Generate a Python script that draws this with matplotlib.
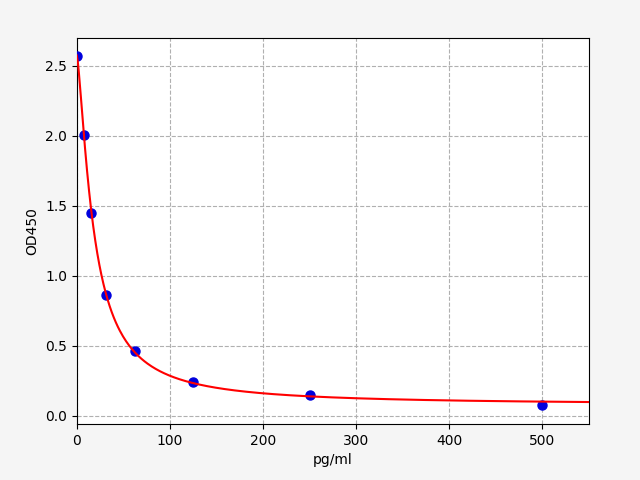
import numpy as np
import matplotlib.pyplot as plt

# standard points
conc = [0, 7.8, 15.6, 31.25, 62.5, 125, 250, 500]
od = [2.57, 2.01, 1.45, 0.865, 0.465, 0.243, 0.15, 0.08]

x = np.array(conc, dtype=float)
y = np.array(od, dtype=float)


def four_pl(xx, p):
    a, b, c, d = p
    return d + (a - d) / (1.0 + (np.abs(xx) / c) ** b)


# small Levenberg-Marquardt fit of a 4PL model to the points
p = np.array([2.55, 1.2, 20.0, 0.05])
lam = 1e-3
for it in range(500):
    r = y - four_pl(x, p)
    J = np.zeros((len(x), 4))
    for k in range(4):
        dp = np.zeros(4)
        dp[k] = 1e-6 * max(abs(p[k]), 1.0)
        J[:, k] = (four_pl(x, p + dp) - four_pl(x, p)) / dp[k]
    A = J.T @ J
    g = J.T @ r
    step = np.linalg.solve(A + lam * np.diag(np.diag(A)), g)
    pn = p + step
    if pn[2] > 0 and np.sum((y - four_pl(x, pn)) ** 2) < np.sum(r ** 2):
        p = pn
        lam *= 0.3
    else:
        lam *= 10

xs = np.linspace(0, 550, 500)

fig = plt.figure(figsize=(6.4, 4.8), dpi=100, facecolor='#f5f5f5')
ax = fig.add_subplot(111)
fig.subplots_adjust(left=0.12, right=0.92, top=0.921, bottom=0.117)
ax.plot(x, y, 'o', color='#0000dd', markersize=6.5, zorder=3)
ax.plot(xs, four_pl(xs, p), color='red', linewidth=1.5, zorder=4)
ax.set_xlim(0, 550)
ax.set_ylim(-0.057, 2.7)
ax.set_xlabel('pg/ml')
ax.set_ylabel('OD450')
ax.grid(True, linestyle='--', color='#b0b0b0')
ax.set_axisbelow(True)
fig.savefig('out.png', facecolor=fig.get_facecolor())
print(p)
